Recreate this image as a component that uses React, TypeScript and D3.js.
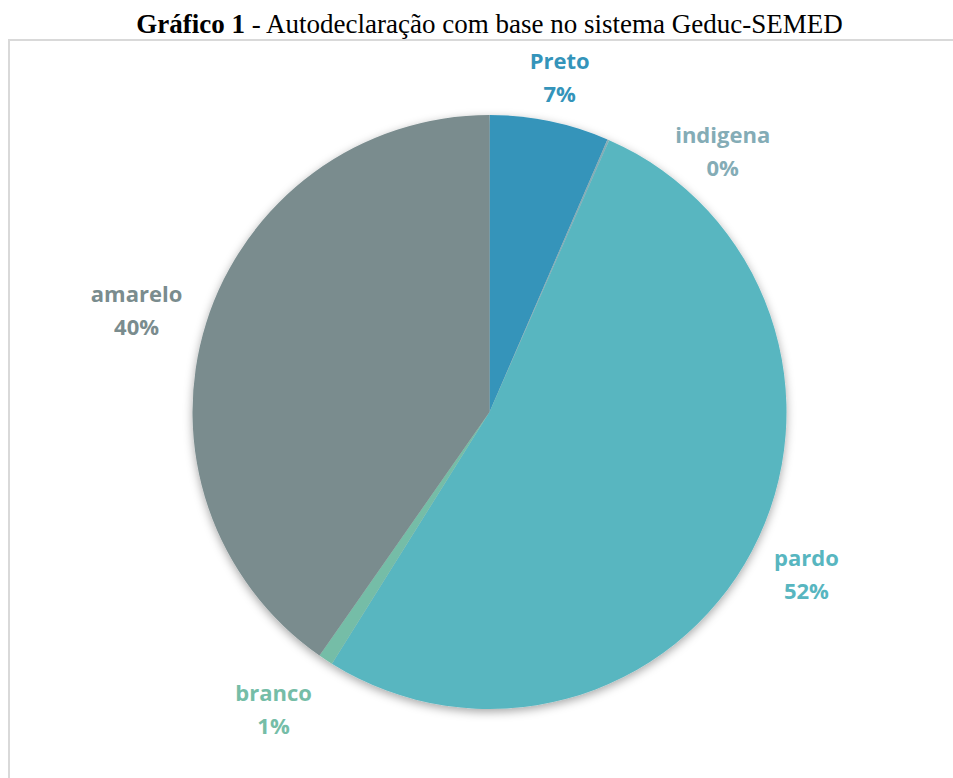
import React from "react";
import * as d3 from "d3";

const categories = ["Preto", "indigena", "pardo", "branco", "amarelo"];
const values = [6.5, 0.1, 52.3, 0.8, 40.3];
const sliceColors = ["#3494BA", "#84ACB6", "#58B6C0", "#75BDA7", "#7A8C8E"];
const labelColors = ["#3494BA", "#84ACB6", "#58B6C0", "#75BDA7", "#7A8C8E"];
const titleBold = "Gráfico 1";
const titleRest = " - Autodeclaração com base no sistema Geduc-SEMED";

const W = 953;
const H = 778;
const cx = 489.5;
const cy = 412;
const R = 297;
const plotTop = 40;
const labelFont = "bold 22px 'Open Sans', sans-serif";

function measure(text: string): number {
  if (typeof document === "undefined") return text.length * 12;
  const c = document.createElement("canvas");
  const ctx = c.getContext("2d");
  if (!ctx) return text.length * 12;
  ctx.font = labelFont;
  return ctx.measureText(text).width;
}

const clamp = (v: number) => Math.max(-1, Math.min(1, v));

export default function App() {
  const total = d3.sum(values);
  const pie = d3.pie<number>().sort(null).value((d) => d);
  const arcs = pie(values);
  const arcGen = d3.arc<d3.PieArcDatum<number>>().innerRadius(0).outerRadius(R);
  const fmt = (v: number) => `${Math.round((v / total) * 100)}%`;

  const fontSize = 22;
  const lineH = 33;
  const gap = 25;
  const hh = 28.5;
  const minSep = (27 * Math.PI) / 180;
  let prevAngle = -Infinity;
  const labels = arcs.map((a, i) => {
    let ang = (a.startAngle + a.endAngle) / 2;
    let pushed = false;
    if (ang < prevAngle + minSep) {
      ang = prevAngle + minSep;
      pushed = true;
    }
    prevAngle = ang;
    const ux = Math.sin(ang);
    const uy = -Math.cos(ang);
    const pct = fmt(values[i]);
    const hw = Math.max(measure(categories[i]), measure(pct)) / 2;
    const d = R + (pushed ? 0 : gap);
    const x = cx + d * ux + hw * clamp(4 * ux * Math.abs(ux));
    let y = cy + d * uy + hh * clamp(1.9 * uy * Math.abs(uy));
    if (y - hh < plotTop + 9) y = plotTop + 9 + hh;
    return { x, y, name: categories[i], pct, color: labelColors[i] };
  });

  return (
    <svg width={W} height={H} style={{ position: "absolute", left: 0, top: 0 }}>
      <defs>
        <filter id="shadow" x="-20%" y="-20%" width="140%" height="140%">
          <feDropShadow dx="0" dy="3" stdDeviation="5" floodColor="#000" floodOpacity="0.35" />
        </filter>
      </defs>
      <rect x={0} y={0} width={W} height={H} fill="#fff" />
      <rect x={9} y={40} width={W + 20} height={H + 20} fill="#fff" stroke="#d9d9d9" strokeWidth={2} />
      <text
        x={cx}
        y={33}
        textAnchor="middle"
        fontFamily="'Liberation Serif', 'Times New Roman', serif"
        fontSize={27}
        fill="#000"
      >
        <tspan fontWeight="bold">{titleBold}</tspan>
        <tspan>{titleRest}</tspan>
      </text>
      <g transform={`translate(${cx},${cy})`} filter="url(#shadow)">
        {arcs.map((a, i) => (
          <path key={i} d={arcGen(a) || ""} fill={sliceColors[i]} />
        ))}
      </g>
      {labels.map((l, i) => (
        <text
          key={i}
          x={l.x}
          y={l.y}
          textAnchor="middle"
          fontFamily="'Open Sans', sans-serif"
          fontWeight="bold"
          fontSize={fontSize}
          fill={l.color}
        >
          <tspan x={l.x} dy={-lineH / 2 + 8}>{l.name}</tspan>
          <tspan x={l.x} dy={lineH}>{l.pct}</tspan>
        </text>
      ))}
    </svg>
  );
}
